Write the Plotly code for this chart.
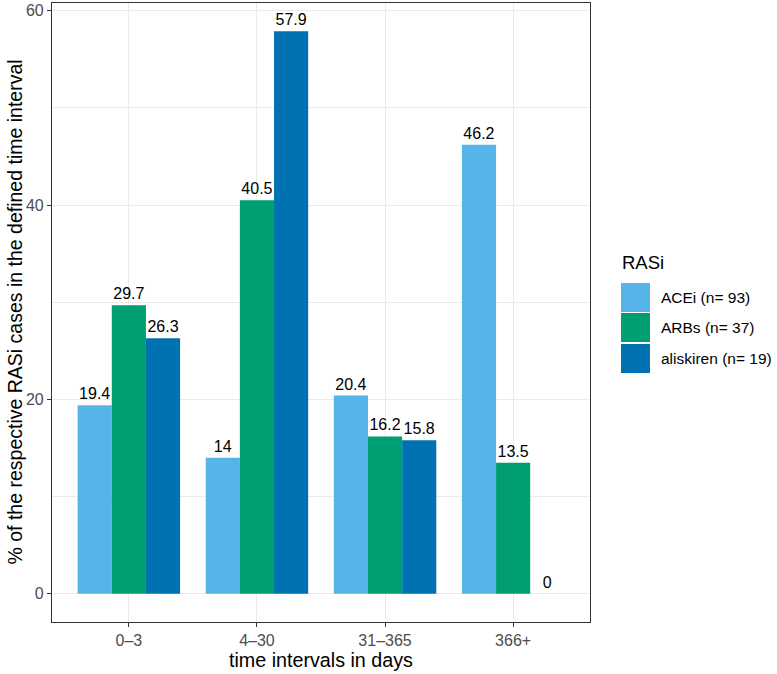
import plotly.graph_objects as go

categories = ["0\u20133", "4\u201330", "31\u2013365", "366+"]
series_names = ["ACEi (n= 93)", "ARBs (n= 37)", "aliskiren (n= 19)"]
acei = [19.4, 14, 20.4, 46.2]
arbs = [29.7, 40.5, 16.2, 13.5]
aliskiren = [26.3, 57.9, 15.8, 0]
colors = ["#56B4E9", "#009E73", "#0072B2"]
yticks = [0, 20, 40, 60]

FONT = "Liberation Sans, Arial, sans-serif"
L, R, T, B = 52, 590, 3, 622
PW, PH = R - L, B - T

def px(x):
    return (x - L) / PW

def py(y):
    return (B - y) / PH

fig = go.Figure()
for name, vals, col in zip(series_names, [acei, arbs, aliskiren], colors):
    fig.add_trace(go.Bar(
        x=categories, y=vals, name=name, marker=dict(color=col, line=dict(width=0)),
        text=[f"{v:g}" for v in vals], textposition="outside",
        textfont=dict(family=FONT, size=16, color="#000000"),
        cliponaxis=False, showlegend=False,
    ))

fig.update_layout(
    width=777, height=674,
    margin=dict(l=L, r=777 - R, t=T, b=674 - B, autoexpand=False),
    paper_bgcolor="white", plot_bgcolor="white",
    barmode="group", bargap=0.2, bargroupgap=0,
    font=dict(family=FONT),
    xaxis=dict(
        type="category", range=[-0.6, 3.6], automargin=False,
        showgrid=True, gridcolor="#EBEBEB", gridwidth=1.1,
        showline=True, mirror=True, linecolor="#333333", linewidth=1.1,
        ticks="outside", ticklen=4, tickcolor="#333333", tickwidth=1.1,
        tickfont=dict(family=FONT, size=16, color="#4D4D4D"),
        zeroline=False,
    ),
    yaxis=dict(
        range=[-2.895, 60.795], tickvals=yticks, automargin=False,
        showgrid=True, gridcolor="#EBEBEB", gridwidth=1.1,
        minor=dict(showgrid=True, gridcolor="#EBEBEB", gridwidth=0.6, tick0=10, dtick=20),
        showline=True, mirror=True, linecolor="#333333", linewidth=1.1,
        ticks="outside", ticklen=4, tickcolor="#333333", tickwidth=1.1,
        tickfont=dict(family=FONT, size=16, color="#4D4D4D"),
        zeroline=False,
    ),
)

# Axis titles
fig.add_annotation(text="time intervals in days", xref="paper", yref="paper",
                   x=px((L + R) / 2), y=py(660), xanchor="center", yanchor="middle",
                   showarrow=False, font=dict(family=FONT, size=19.7, color="#000000"))
fig.add_annotation(text="% of the respective RASi cases in the defined time interval",
                   xref="paper", yref="paper", x=px(14), y=py((T + B) / 2),
                   xanchor="center", yanchor="middle", textangle=-90,
                   showarrow=False, font=dict(family=FONT, size=19.5, color="#000000"))

# Legend (ggplot-style) drawn with shapes + text
fig.add_annotation(text="RASi", xref="paper", yref="paper", x=px(620), y=py(263),
                   xanchor="left", yanchor="middle", showarrow=False,
                   font=dict(family=FONT, size=18.5, color="#000000"))
key_tops = [283, 313, 344]
for name, col, top in zip(series_names, colors, key_tops):
    y0 = py(top + 29)
    y1 = py(top)
    fig.add_shape(type="rect", xref="paper", yref="paper",
                  x0=px(621), x1=px(650), y0=y0, y1=y1,
                  fillcolor=col, line=dict(width=0))
    fig.add_annotation(text=name, xref="paper", yref="paper", x=px(659), y=(y0 + y1) / 2,
                       xanchor="left", yanchor="middle", showarrow=False,
                       font=dict(family=FONT, size=15.5, color="#000000"))

fig.write_html("out.html", config={"displayModeBar": False},
               post_script="document.body.style.margin='0';")
